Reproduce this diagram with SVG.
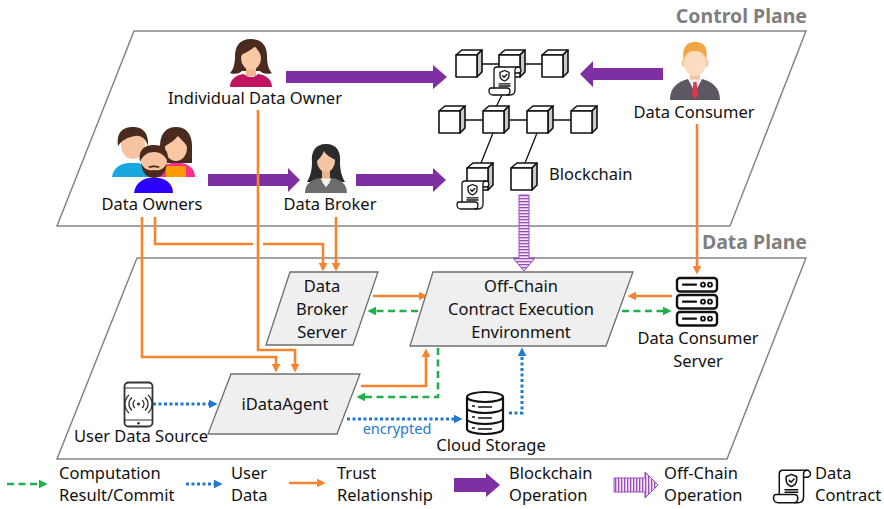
<svg xmlns="http://www.w3.org/2000/svg" xmlns:xlink="http://www.w3.org/1999/xlink" width="884" height="509" viewBox="0 0 884 509">
  <style>
    text { font-family: "Noto Sans", "Open Sans", "Liberation Sans", sans-serif; font-size: 16.5px; fill: #111; }
    .mid { text-anchor: middle; }
    .plane { fill: #fff; stroke: #858585; stroke-width: 1.5; }
    .plane-label { font-weight: bold; font-size: 19.5px; fill: #7f7f7f; text-anchor: end; }
    .box { fill: #efefef; stroke: #6e6e6e; stroke-width: 1.3; }
    .trust { fill: none; stroke: #f7832d; stroke-width: 2.6; marker-end: url(#ah-orange); }
    .result { fill: none; stroke: #1faf4b; stroke-width: 2.6; stroke-dasharray: 7 4.5; marker-end: url(#ah-green); }
    .userdata { fill: none; stroke: #1f78d1; stroke-width: 3; stroke-dasharray: 3 2.5; marker-end: url(#ah-blue); }
    .chain-op { fill: #7e2fa1; }
    .offchain-op { stroke: #9a4cbb; stroke-width: 1; }
    .icon-line { fill: none; stroke: #111; stroke-width: 2.2; stroke-linecap: round; }
  </style>
  <defs>
    <marker id="ah-orange" viewBox="0 0 10 10" refX="6" refY="5" markerWidth="9" markerHeight="9" markerUnits="userSpaceOnUse" orient="auto">
      <path d="M0,0 L10,5 L0,10 Z" fill="#f7832d"/>
    </marker>
    <marker id="ah-green" viewBox="0 0 10 10" refX="6" refY="5" markerWidth="9" markerHeight="9" markerUnits="userSpaceOnUse" orient="auto">
      <path d="M0,0 L10,5 L0,10 Z" fill="#1faf4b"/>
    </marker>
    <marker id="ah-blue" viewBox="0 0 10 10" refX="6" refY="5" markerWidth="9" markerHeight="9" markerUnits="userSpaceOnUse" orient="auto">
      <path d="M0,0 L10,5 L0,10 Z" fill="#1f78d1"/>
    </marker>
    <pattern id="stripes-h" width="6" height="3" patternUnits="userSpaceOnUse">
      <rect width="6" height="3" fill="#f3e6f8"/>
      <rect width="6" height="1.3" fill="#9a4cbb"/>
    </pattern>
    <pattern id="stripes-v" width="3" height="6" patternUnits="userSpaceOnUse">
      <rect width="3" height="6" fill="#f3e6f8"/>
      <rect width="1.3" height="6" fill="#9a4cbb"/>
    </pattern>
    <!-- block of the chain -->
    <symbol id="cube" viewBox="0 0 28 29">
      <g stroke="#111" stroke-width="1.6" stroke-linejoin="round">
        <polygon points="1,6 7,1 27,1 22,6" fill="#fff"/>
        <polygon points="22,6 27,1 27,23 22,28" fill="#c9c9c9"/>
        <rect x="1" y="6" width="21" height="22" fill="#fff"/>
      </g>
    </symbol>
    <!-- data contract scroll -->
    <symbol id="contract" viewBox="0 0 34 32">
      <g fill="none" stroke="#111" stroke-width="1.3" stroke-linejoin="round" stroke-linecap="round">
        <path d="M9,2 C7,2 6,3.5 6,5 V23 H3 C1.5,23 1,24.5 1,26 C1,28 2.5,30 5,30 H22 C25,30 27,28 27,25 V8 H30 C31.8,8 33,6.5 33,5 C33,3.5 31.8,2 30,2 Z" fill="#fff"/>
        <path d="M6,23 H19 C21,23 22,24.5 22,26 C22,28 21,30 19,30"/>
        <path d="M27,8 V5 C27,3.5 28,2 30,2"/>
        <path d="M16.5,5.5 L21,7.3 V10.5 C21,13.3 19,15 16.5,16 C14,15 12,13.3 12,10.5 V7.3 Z"/>
        <path d="M14.6,10.7 L16.1,12.3 L18.8,9.5"/>
        <path d="M11,18.8 H22 M11,21 H22"/>
      </g>
    </symbol>
  </defs>

  <!-- planes -->
  <g id="control-plane">
    <polygon class="plane" points="134,31 806,31 730,226 57,226"/>
    <text class="plane-label" x="807" y="23">Control Plane</text>
  </g>
  <g id="data-plane">
    <polygon class="plane" points="137,258 806,258 727,459 57,459"/>
    <text class="plane-label" x="807" y="249">Data Plane</text>
  </g>

  <!-- connectors -->
  <g id="connectors">
    <!-- blockchain operations -->
    <polygon class="chain-op" points="286,71 433,71 433,65 447,77 433,89 433,83 286,83"/>
    <polygon class="chain-op" points="208,174 288,174 288,168 300,180 288,192 288,186 208,186"/>
    <polygon class="chain-op" points="356,174 433,174 433,168 446,180 433,192 433,186 356,186"/>
    <polygon class="chain-op" points="663,68 593,68 593,61 580,74 593,87 593,80 663,80"/>
    <!-- off-chain operation -->
    <polygon class="offchain-op" fill="url(#stripes-h)" points="519,195 529,195 529,258 535,258 524,271 513,258 519,258"/>
    <!-- trust relationships -->
    <path class="trust" d="M258,110 V350 H295 V369"/>
    <path class="trust" d="M142,217 V357 H276 V369"/>
    <path class="trust" d="M155,217 V244 H253 M263,244 H323 V268"/>
    <path class="trust" d="M336,217 V268"/>
    <path class="trust" d="M697,124 V271"/>
    <path class="trust" d="M373,296 H424"/>
    <path class="trust" d="M672,296 H631"/>
    <path class="trust" d="M361,386 H426 V352"/>
    <!-- computation results -->
    <path class="result" d="M418,311 H371"/>
    <path class="result" d="M622,311 H668"/>
    <path class="result" d="M438,348 V397 H360"/>
    <!-- user data -->
    <path class="userdata" d="M153,404 H214"/>
    <path class="userdata" d="M347,419 H459"/>
    <path class="userdata" d="M509,413 H522 V351"/>
    <text x="397" y="434" class="mid" style="font-size:14.5px;fill:#1f78d1">encrypted</text>
  </g>

  <!-- control plane actors -->
  <g id="individual-data-owner">
    <path d="M251,39 C240,39 235,46 235,56 C235,65 233,70 230,73 C236,75 240,73 242,71 L260,71 C262,73 266,75 272,73 C269,70 267,65 267,56 C267,46 262,39 251,39 Z" fill="#4b2a20"/>
    <rect x="246" y="66" width="10" height="10" fill="#f0b48c"/>
    <ellipse cx="251" cy="58" rx="10" ry="12" fill="#f9c9a3"/>
    <path d="M240,56 C239,45 245,41 251,41 C258,41 263,45 262,56 C259,52 257,49 255,46 C252,50 246,52 240,56 Z" fill="#4b2a20"/>
    <path d="M230,87 C230,79 236,75 244,74 C247,78 255,78 258,74 C266,75 272,79 272,87 Z" fill="#c0145e"/>
    <text class="mid" x="255" y="104">Individual Data Owner</text>
  </g>

  <g id="data-owners">
    <!-- left man -->
    <path d="M112,177 C113,168 120,164 128,163 L138,163 C146,164 152,168 152,177 Z" fill="#18a8e0"/>
    <ellipse cx="133" cy="145" rx="12" ry="14" fill="#f8c3a0"/>
    <path d="M118,146 C116,131 124,127 133,127 C142,127 149,132 148,146 C146,139 141,135 135,136 C128,137 122,140 118,146 Z" fill="#4a2a1f"/>
    <!-- right woman -->
    <path d="M176,127 C166,127 160,134 160,146 L160,163 L192,163 L192,146 C192,134 186,127 176,127 Z" fill="#4a2a1f"/>
    <path d="M158,177 C159,169 165,164 172,163 L181,163 C189,164 195,169 195,177 Z" fill="#ff2d8c"/>
    <path d="M166,166 L186,166 L186,177 L166,177 Z" fill="#ff9a00"/>
    <ellipse cx="176" cy="148" rx="11" ry="13" fill="#f9c7a4"/>
    <path d="M165,146 C164,135 169,131 176,131 C183,131 188,135 187,146 C183,141 180,138 178,136 C175,140 170,143 165,146 Z" fill="#4a2a1f"/>
    <!-- front man -->
    <path d="M134,193 C135,184 142,179 149,178 L159,178 C166,179 173,184 173,193 Z" fill="#2c00ff"/>
    <ellipse cx="154" cy="162" rx="13" ry="15" fill="#f8c3a0"/>
    <path d="M140,162 C138,149 145,145 154,145 C163,145 169,149 168,162 C165,155 160,152 154,152 C148,152 143,155 140,162 Z" fill="#4a2a1f"/>
    <path d="M141,163 C142,173 147,178 154,178 C161,178 166,173 167,163 C164,169 160,171 154,170 C148,171 144,169 141,163 Z" fill="#4a2a1f"/>
    <path d="M148,167 C151,165 157,165 160,167 L158,168 C156,167 152,167 150,168 Z" fill="#4a2a1f"/>
    <text class="mid" x="152" y="210">Data Owners</text>
  </g>

  <g id="data-broker">
    <path d="M326,144 C315,144 311,152 312,162 C312,171 310,177 307,182 L345,182 C342,177 340,171 340,162 C341,152 337,144 326,144 Z" fill="#2b2b2b"/>
    <rect x="322" y="168" width="8" height="11" fill="#e8b48e"/>
    <ellipse cx="326" cy="161" rx="9" ry="11" fill="#f3c5a2"/>
    <path d="M316,162 C315,151 320,147 326,147 C333,147 337,151 336,160 C331,158 326,155 324,151 C322,156 319,159 316,162 Z" fill="#2b2b2b"/>
    <path d="M305,193 C305,184 311,180 319,178 L326,187 L333,178 C341,180 347,184 347,193 Z" fill="#6d6d6d"/>
    <path d="M320,178.5 L326,187 L332,178.5 Z" fill="#f3f0ea"/>
    <text class="mid" x="330" y="210">Data Broker</text>
  </g>

  <g id="data-consumer">
    <ellipse cx="684" cy="63" rx="2.5" ry="4" fill="#f3c9a8"/>
    <ellipse cx="706" cy="63" rx="2.5" ry="4" fill="#f3c9a8"/>
    <rect x="690" y="72" width="10" height="9" fill="#f0c8a8"/>
    <ellipse cx="695" cy="62" rx="11" ry="14" fill="#fcdcc0"/>
    <path d="M684,61 C681,46 688,42 695,42 C703,42 709,46 706,61 C705,54 701,51 695,51 C689,51 685,54 684,61 Z" fill="#f3a744"/>
    <path d="M670,100 C670,88 677,82 688,79 L695,92 L702,79 C713,82 720,88 720,100 Z" fill="#5c5761"/>
    <path d="M688.5,79.5 L695,92 L701.5,79.5 Z" fill="#ececec"/>
    <path d="M693.5,82 L696.5,82 L698,95 L695,99 L692,95 Z" fill="#e3344b"/>
    <text class="mid" x="694" y="118">Data Consumer</text>
  </g>

  <g id="blockchain">
    <path d="M470,64 H556 M452,120 H586 M502,95 L496,107 M493,133 L481,163 M537,133 L525,163" stroke="#111" stroke-width="1.3" fill="none"/>
    <use href="#cube" x="455" y="49" width="28" height="29"/>
    <use href="#cube" x="498" y="49" width="28" height="29"/>
    <use href="#cube" x="541" y="49" width="28" height="29"/>
    <use href="#contract" x="488" y="65" width="34" height="32"/>
    <use href="#cube" x="438" y="105" width="28" height="29"/>
    <use href="#cube" x="482" y="105" width="28" height="29"/>
    <use href="#cube" x="526" y="105" width="28" height="29"/>
    <use href="#cube" x="570" y="105" width="28" height="29"/>
    <use href="#cube" x="466" y="162" width="28" height="29"/>
    <use href="#cube" x="510" y="162" width="28" height="29"/>
    <use href="#contract" x="456" y="179" width="34" height="32"/>
    <text x="549" y="180">Blockchain</text>
  </g>

  <!-- data plane nodes -->
  <g id="data-broker-server">
    <polygon class="box" points="290,272 378,272 353,345 266,345"/>
    <text class="mid" x="322" y="292">Data</text>
    <text class="mid" x="322" y="315">Broker</text>
    <text class="mid" x="322" y="338">Server</text>
  </g>

  <g id="off-chain-env">
    <polygon class="box" points="433,272 633,272 606,346 410,346"/>
    <text class="mid" x="521" y="292">Off-Chain</text>
    <text class="mid" x="521" y="315">Contract Execution</text>
    <text class="mid" x="521" y="338">Environment</text>
  </g>

  <g id="data-consumer-server">
    <g fill="#fff" stroke="#111" stroke-width="2.4">
      <rect x="677" y="278" width="40" height="13.5" rx="3"/>
      <rect x="677" y="295" width="40" height="13.5" rx="3"/>
      <rect x="677" y="312" width="40" height="13.5" rx="3"/>
    </g>
    <path class="icon-line" d="M683,284.7 H696 M683,301.7 H696 M683,318.7 H696"/>
    <g fill="none" stroke="#111" stroke-width="1.8">
      <circle cx="703" cy="284.7" r="2"/><circle cx="710" cy="284.7" r="2"/>
      <circle cx="703" cy="301.7" r="2"/><circle cx="710" cy="301.7" r="2"/>
      <circle cx="703" cy="318.7" r="2"/><circle cx="710" cy="318.7" r="2"/>
    </g>
    <text class="mid" x="698" y="344">Data Consumer</text>
    <text class="mid" x="698" y="367">Server</text>
  </g>

  <g id="idataagent">
    <polygon class="box" points="231,374 360,374 337,434 208,434"/>
    <text class="mid" x="285" y="410">iDataAgent</text>
  </g>

  <g id="user-data-source">
    <rect x="124.5" y="382.5" width="28" height="44" rx="4" fill="#fff" stroke="#333" stroke-width="1.8"/>
    <path d="M124.5,388 H152.5 M124.5,420 H152.5" stroke="#333" stroke-width="1.2"/>
    <circle cx="138.5" cy="423.3" r="1.3" fill="#333"/>
    <circle cx="138.5" cy="404" r="1.6" fill="#333"/>
    <path d="M135,400 A5,5 0 0 0 135,408 M132,397.5 A8.5,8.5 0 0 0 132,410.5 M129,395 A12,12 0 0 0 129,413 M142,400 A5,5 0 0 1 142,408 M145,397.5 A8.5,8.5 0 0 1 145,410.5 M148,395 A12,12 0 0 1 148,413" fill="none" stroke="#333" stroke-width="1.3"/>
    <text class="mid" x="141" y="442">User Data Source</text>
  </g>

  <g id="cloud-storage">
    <path d="M467,397 V429 A18,5 0 0 0 503,429 V397" fill="#fff" stroke="#111" stroke-width="2.2"/>
    <ellipse cx="485" cy="397" rx="18" ry="5" fill="#fff" stroke="#111" stroke-width="2.2"/>
    <path d="M467,408 A18,5 0 0 0 503,408 M467,419 A18,5 0 0 0 503,419" fill="none" stroke="#111" stroke-width="2"/>
    <path d="M472,406 h3 M478,407 h14 M472,417 h3 M478,418 h14 M472,428 h3 M478,429 h14" fill="none" stroke="#111" stroke-width="1.4"/>
    <text class="mid" x="491" y="451">Cloud Storage</text>
  </g>

  <!-- legend -->
  <g id="legend">
    <path class="result" d="M7,484 H44"/>
    <text x="59" y="479">Computation</text>
    <text x="59" y="501">Result/Commit</text>
    <path class="userdata" d="M186,484 H219"/>
    <text x="231" y="479">User</text>
    <text x="231" y="501">Data</text>
    <path class="trust" d="M289,483 H322"/>
    <text x="337" y="479">Trust</text>
    <text x="337" y="501">Relationship</text>
    <polygon class="chain-op" points="454,478 486,478 486,473 500,485 486,497 486,492 454,492"/>
    <text x="509" y="479">Blockchain</text>
    <text x="509" y="501">Operation</text>
    <polygon class="offchain-op" fill="url(#stripes-v)" points="614,478 645,478 645,472 658,485 645,498 645,492 614,492"/>
    <text x="664" y="479">Off-Chain</text>
    <text x="664" y="501">Operation</text>
    <use href="#contract" x="772" y="468" width="40" height="37"/>
    <text x="815" y="479">Data</text>
    <text x="815" y="501">Contract</text>
  </g>
</svg>
